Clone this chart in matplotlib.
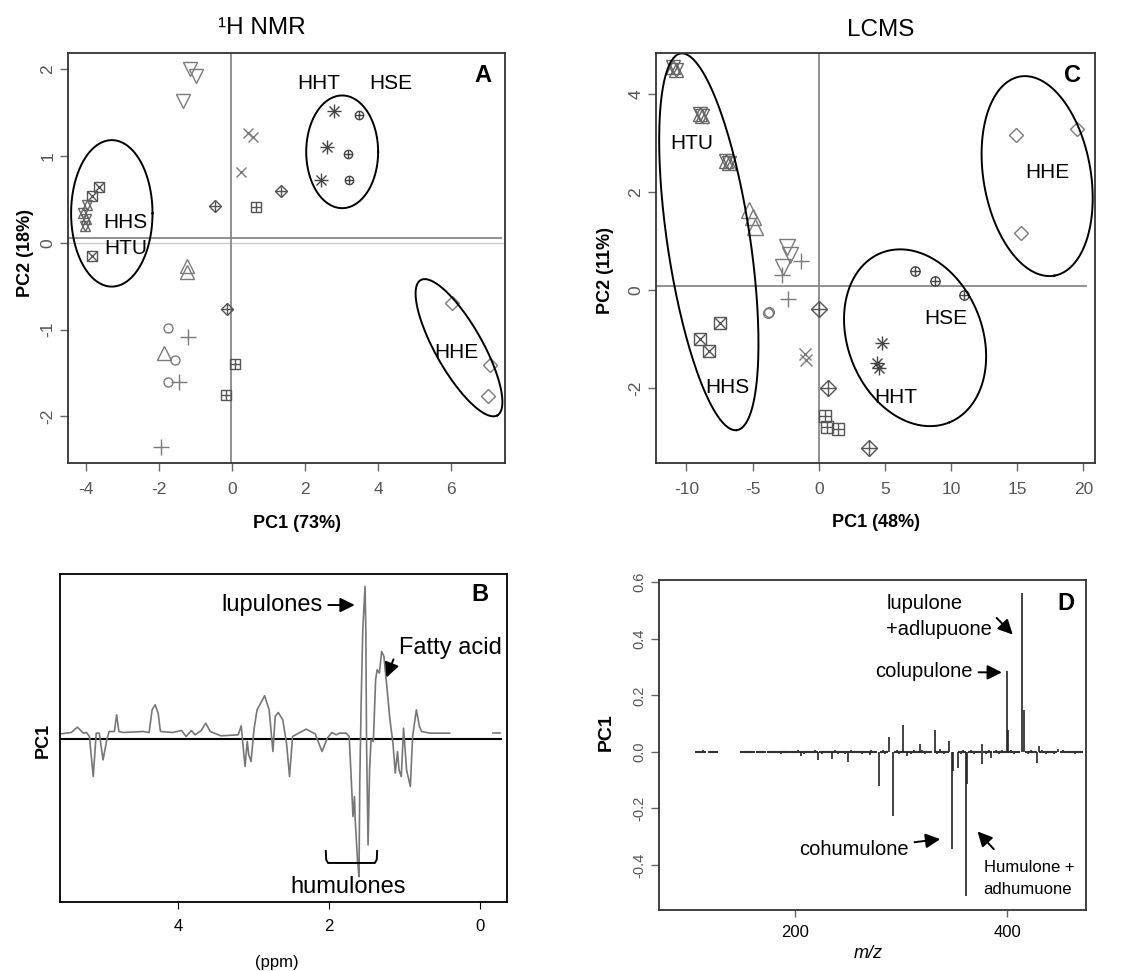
import numpy as np
import matplotlib
matplotlib.use("Agg")
import matplotlib.pyplot as plt

plt.rcParams['font.family'] = ['Liberation Sans', 'DejaVu Sans']

# ---------------- data ----------------
# panel A: 1H NMR PCA scores
nmr_groups = ["HHS", "HTU", "HHT", "HSE", "HHE", "tri_down", "tri_up",
              "cross", "diamond_plus", "square_plus", "circle", "plus"]
nmr_pc1 = [[-3.65, -3.82, -3.82],
           [-3.96, -4.07, -3.99, -4.02],
           [2.79, 2.61, 2.44],
           [3.48, 3.18, 3.20],
           [6.03, 7.06, 7.02],
           [-1.14, -0.99, -1.34],
           [-1.23, -1.23, -1.87],
           [0.43, 0.59, 0.26],
           [-0.46, 1.35, -0.14],
           [0.67, 0.09, -0.17],
           [-1.76, -1.55, -1.74],
           [-1.19, -1.44, -1.94]]
nmr_pc2 = [[0.64, 0.54, -0.15],
           [0.44, 0.34, 0.27, 0.19],
           [1.52, 1.11, 0.72],
           [1.48, 1.02, 0.72],
           [-0.69, -1.41, -1.77],
           [2.00, 1.92, 1.64],
           [-0.27, -0.34, -1.27],
           [1.27, 1.22, 0.82],
           [0.43, 0.60, -0.76],
           [0.41, -1.40, -1.76],
           [-0.98, -1.35, -1.61],
           [-1.09, -1.61, -2.36]]
nmr_labels = ["HHT", "HSE", "HHS", "HTU", "HHE"]
nmr_label_x = [2.39, 4.36, -2.92, -2.92, 6.15]
nmr_label_y = [1.84, 1.84, 0.23, -0.06, -1.26]
# ellipses: centre, first and second semi-axis vectors (data units)
nmr_ell_c = [(-3.29, 0.34), (3.02, 1.05), (6.22, -1.21)]
nmr_ell_u = [(1.115, 0.0), (0.985, 0.0), (1.05, -0.78)]
nmr_ell_v = [(0.0, 0.845), (0.0, 0.65), (0.558, 0.135)]

# panel C: LCMS PCA scores
ms_groups = nmr_groups
ms_pc1 = [[-7.43, -8.93, -8.30],
          [-11.0, -10.8, -9.0, -8.8, -7.0, -6.8],
          [4.75, 4.38, 4.58],
          [7.28, 8.78, 10.95],
          [14.9, 19.5, 15.3],
          [-2.43, -2.18, -2.68],
          [-5.3, -5.0, -4.8],
          [-1.05, -0.93],
          [0.0, 0.7, 3.83],
          [0.45, 0.63, 1.45],
          [-3.80, -3.75],
          [-1.3, -2.8, -2.3]]
ms_pc2 = [[-0.66, -0.99, -1.23],
          [4.55, 4.50, 3.60, 3.55, 2.64, 2.60],
          [-1.08, -1.49, -1.59],
          [0.39, 0.19, -0.10],
          [3.17, 3.29, 1.16],
          [0.89, 0.72, 0.48],
          [1.64, 1.50, 1.30],
          [-1.29, -1.42],
          [-0.39, -1.99, -3.22],
          [-2.56, -2.78, -2.83],
          [-0.46, -0.44],
          [0.59, 0.31, -0.18]]
ms_labels = ["HTU", "HHE", "HSE", "HHS", "HHT"]
ms_label_x = [-9.6, 17.3, 9.6, -6.9, 5.8]
ms_label_y = [3.0, 2.4, -0.57, -1.98, -2.18]
ms_ell_c = [(-8.3, 0.99), (7.28, -0.966), (16.5, 2.33)]
ms_ell_u = [(2.125, -3.84), (2.61, -1.724), (1.30, -2.03)]
ms_ell_v = [(3.09, 0.127), (-4.69, -0.526), (-3.99, -0.19)]

# panel B: NMR PC1 loadings
ppm = [5.55, 5.41, 5.33, 5.25, 5.21, 5.17, 5.12, 5.08, 5.04, 4.99, 4.94,
       4.91, 4.84, 4.81, 4.78, 4.72, 4.46, 4.38, 4.34, 4.30, 4.26, 4.23,
       4.07, 3.95, 3.89, 3.82, 3.77, 3.69, 3.63, 3.57, 3.43, 3.20, 3.16,
       3.11, 3.08, 3.06, 3.03, 2.99, 2.95, 2.85, 2.79, 2.74, 2.71, 2.67,
       2.61, 2.56, 2.52, 2.48, 2.44, 2.30, 2.18, 2.09, 2.02, 1.96, 1.90,
       1.86, 1.77, 1.73, 1.70, 1.68, 1.66, 1.65, 1.62, 1.60, 1.59, 1.57,
       1.55, 1.52, 1.51, 1.50, 1.48, 1.46, 1.44, 1.41, 1.38, 1.36, 1.33,
       1.30, 1.27, 1.24, 1.19, 1.15, 1.12, 1.09, 1.07, 1.04, 1.01, 0.97,
       0.92, 0.89, 0.84, 0.80, 0.77, 0.66, 0.40]
pc1_nmr = [0.15, 0.19, 0.35, 0.17, 0.19, 0.07, -1.13, 0.17, 0.17, -0.63,
           -0.03, 0.22, 0.22, 0.72, 0.22, 0.19, 0.22, 0.19, 0.87, 1.02,
           0.77, 0.22, 0.19, 0.25, 0.07, 0.25, 0.12, 0.25, 0.47, 0.22,
           0.09, 0.12, 0.39, -0.83, -0.08, -0.48, -0.68, 0.30, 0.87, 1.29,
           0.87, -0.38, 0.67, 0.79, 0.57, -0.13, -1.13, 0.07, 0.12, 0.29,
           0.15, -0.38, 0.02, 0.19, 0.12, 0.17, 0.17, 0.07, -1.33, -2.33,
           -1.73, -2.43, -3.63, -4.13, -1.33, 1.27, 3.27, 4.57, 3.27, -0.13,
           -3.18, -0.93, -0.03, -0.08, 1.77, 2.07, 1.97, 2.62, 2.47, 1.77,
           0.57, -0.13, -1.03, -0.38, -0.93, -1.13, 0.32, -0.93, -1.43, 0.07,
           0.87, 0.37, 0.22, 0.17, 0.17]
ppm_tail = [-0.17, -0.27]
pc1_tail = [0.16, 0.16]

# panel D: LCMS PC1 loadings
mz = [206.0, 222.0, 235.1, 250.2, 279.0, 288.4, 292.5, 301.9, 306.0,
      317.5, 331.7, 344.8, 348.3, 348.9, 353.6, 361.4, 362.0, 376.0,
      376.6, 385.0, 400.0, 400.6, 414.1, 415.4, 428.0, 429.5, 448.0, 270.5]
pc1_ms = [-0.015, -0.029, -0.025, -0.036, -0.121, 0.052, -0.227, 0.094,
          -0.015, 0.028, 0.079, 0.040, -0.345, -0.068, -0.056, -0.509,
          -0.115, 0.028, -0.042, -0.021, 0.285, 0.079, 0.561, 0.149,
          -0.039, 0.020, 0.010, -0.010]
mz_small = [109, 114, 121, 125, 151, 155, 160, 166, 170, 177, 180, 183,
            187, 190, 193, 197, 200, 203, 209, 212, 215, 219, 226, 229,
            232, 238, 241, 244, 247, 253, 256, 260, 263, 266, 272, 275,
            283, 285, 296, 298, 304, 309, 312, 314, 320, 323, 326, 334,
            337, 340, 342, 356, 358, 366, 369, 372, 380, 383, 389, 392,
            395, 398, 403, 406, 409, 419, 422, 425, 433, 436, 440, 444,
            452, 456, 460, 464, 468]
pc1_small = [0.003, 0.006, 0.004, -0.003, 0.002, -0.004, 0.003, 0.004,
             -0.003, 0.005, -0.004, 0.003, -0.006, 0.004, -0.003, 0.005,
             -0.004, 0.006, -0.008, 0.004, -0.005, 0.007, -0.006, 0.004,
             -0.005, 0.008, -0.007, 0.005, -0.006, 0.006, -0.005, 0.004,
             -0.007, 0.005, 0.006, -0.005, 0.008, -0.006, 0.006, -0.008,
             0.005, -0.006, 0.008, -0.005, 0.007, -0.006, 0.005, -0.007,
             0.009, -0.006, 0.005, -0.008, 0.006, 0.007, -0.006, 0.005,
             -0.007, 0.006, 0.008, -0.007, 0.006, -0.005, 0.007, -0.006,
             0.005, -0.008, 0.006, -0.005, 0.007, -0.006, 0.005, -0.007,
             0.006, -0.005, 0.004, -0.006, 0.005]

# ---------------- styles ----------------
shapes = {
    "HHS": [("s", 1.0), ("x", 1.0)],
    "HTU": [("^", 1.0), ("v", 1.0)],
    "HHT": [("+", 1.0), ("x", 0.72)],
    "HSE": [("o", 1.0), ("+", 1.0)],
    "HHE": [("D", 1.0)],
    "tri_down": [("v", 1.0)],
    "tri_up": [("^", 1.0)],
    "cross": [("x", 1.0)],
    "diamond_plus": [("D", 1.0), ("+", 1.41)],
    "square_plus": [("s", 1.0), ("+", 1.0)],
    "circle": [("o", 1.0)],
    "plus": [("+", 1.0)],
}
colors = {"HHT": "#444444", "HSE": "#444444", "diamond_plus": "#555555",
          "square_plus": "#555555", "HHS": "#555555", "HTU": "#666666"}
sizes_a = {"HHS": 7, "HTU": 7.5, "HHT": 10, "HSE": 6, "HHE": 7,
           "tri_down": 10.5, "tri_up": 9.5, "cross": 7.5, "diamond_plus": 6.3,
           "square_plus": 6.5, "circle": 6.5, "plus": 11}
sizes_c = {"HHS": 9, "HTU": 10, "HHT": 10, "HSE": 6.7, "HHE": 7.5,
           "tri_down": 11, "tri_up": 11, "cross": 9, "diamond_plus": 8.2,
           "square_plus": 8.3, "circle": 7, "plus": 11}

GRAY_TXT = "#555555"
W, H = 1146, 971


def fx(px):
    return px / W


def fy(py):
    return 1 - py / H


def draw_scores(ax, groups, xs, ys, sizes):
    for g, gx, gy in zip(groups, xs, ys):
        c = colors.get(g, "#7a7a7a")
        for m, f in shapes[g]:
            ax.plot(gx, gy, ls="none", marker=m, ms=sizes[g] * f,
                    mfc="none", mec=c, mew=1.0)


def draw_ellipses(ax, centres, us, vs):
    t = np.linspace(0, 2 * np.pi, 240)
    for (cx, cy), (ux, uy), (vx, vy) in zip(centres, us, vs):
        ax.plot(cx + ux * np.cos(t) + vx * np.sin(t),
                cy + uy * np.cos(t) + vy * np.sin(t), color="black", lw=1.4)


def style_axes(ax, tick_color, size=12.5):
    for s in ax.spines.values():
        s.set_color("#333333")
        s.set_linewidth(1.3)
    ax.tick_params(direction="out", length=6, width=1.0, color="#666666",
                   labelsize=size, labelcolor=tick_color)
    ax.tick_params(axis="x", pad=8)
    ax.tick_params(axis="y", pad=3)
    for lab in ax.get_yticklabels():
        lab.set_rotation(90)
        lab.set_va("center")


fig = plt.figure(figsize=(11.46, 9.71), dpi=100)

# ---------------- panel A ----------------
axA = fig.add_axes([fx(68), fy(463), fx(437), 410 / H])
axA.set_xlim(-4.49, 7.48)
axA.set_ylim(-2.54, 2.19)
axA.axhline(0.0, color="#cccccc", lw=1.0)
axA.plot([-4.49, 7.38], [0.05, 0.05], color="#888888", lw=1.3)
axA.axvline(-0.03, color="#888888", lw=1.3)
draw_scores(axA, nmr_groups, nmr_pc1, nmr_pc2, sizes_a)
draw_ellipses(axA, nmr_ell_c, nmr_ell_u, nmr_ell_v)
for t, x, y in zip(nmr_labels, nmr_label_x, nmr_label_y):
    axA.text(x, y, t, fontsize=15, ha="center", va="center")
axA.set_xticks([-4, -2, 0, 2, 4, 6])
axA.set_yticks([-2, -1, 0, 1, 2])
axA.set_xticklabels(["-4", "-2", "0", "2", "4", "6"])
axA.set_yticklabels(["-2", "-1", "0", "1", "2"])
style_axes(axA, GRAY_TXT)
axA.text(0.95, 0.944, "A", transform=axA.transAxes, fontsize=17,
         fontweight="bold", ha="center", va="center")

# ---------------- panel C ----------------
axC = fig.add_axes([fx(656), fy(463), fx(439), 410 / H])
axC.set_xlim(-12.29, 20.87)
axC.set_ylim(-3.52, 4.84)
axC.plot([-12.29, 20.2], [0.09, 0.09], color="#888888", lw=1.3)
axC.axvline(0.0, color="#888888", lw=1.3)
draw_scores(axC, ms_groups, ms_pc1, ms_pc2, sizes_c)
draw_ellipses(axC, ms_ell_c, ms_ell_u, ms_ell_v)
for t, x, y in zip(ms_labels, ms_label_x, ms_label_y):
    axC.text(x, y, t, fontsize=15, ha="center", va="center")
axC.set_xticks([-10, -5, 0, 5, 10, 15, 20])
axC.set_xticklabels(["-10", "-5", "0", "5", "10", "15", "20"])
axC.set_yticks([-2, 0, 2, 4])
axC.set_yticklabels(["-2", "0", "2", "4"])
style_axes(axC, GRAY_TXT)
axC.text(0.948, 0.946, "C", transform=axC.transAxes, fontsize=17,
         fontweight="bold", ha="center", va="center")

# ---------------- panel B ----------------
axB = fig.add_axes([fx(60), fy(902), fx(447), 328 / H])
axB.set_xlim(5.56, -0.36)
axB.set_ylim(-4.89, 4.94)
axB.plot([5.56, -0.28], [0, 0], color="black", lw=1.5)
axB.plot(ppm, pc1_nmr, color="#777777", lw=1.2)
axB.plot(ppm_tail, pc1_tail, color="#777777", lw=1.2)
axB.set_xticks([4, 2, 0])
axB.set_xticklabels(["4", "2", "0"])
axB.set_yticks([])
for s in axB.spines.values():
    s.set_color("black")
    s.set_linewidth(1.3)
axB.tick_params(direction="out", length=5, labelsize=12, pad=7)
axB.text(0.94, 0.936, "B", transform=axB.transAxes, fontsize=17,
         fontweight="bold", ha="center", va="center")
arrow = dict(arrowstyle="-|>", color="black", lw=1.4, mutation_scale=22)
axB.annotate("lupulones", xy=(1.62, 4.01), xytext=(2.08, 4.01),
             fontsize=17, ha="right", va="center", arrowprops=arrow)
axB.text(1.07, 2.71, "Fatty acid", fontsize=17, ha="left", va="center")
axB.annotate("", xy=(1.25, 1.76), xytext=(1.13, 2.46), arrowprops=arrow)
axB.plot([2.04, 2.035, 2.01, 1.39, 1.365, 1.36],
         [-3.36, -3.62, -3.72, -3.72, -3.62, -3.36], color="black", lw=1.4)
axB.text(1.74, -4.44, "humulones", fontsize=17, ha="center", va="center")

# ---------------- panel D ----------------
axD = fig.add_axes([fx(659), fy(910), fx(427), 330 / H])
axD.set_xlim(72.3, 474)
axD.set_ylim(-0.559, 0.608)
axD.vlines(mz_small, 0, pc1_small, color="#222222", lw=1.2)
axD.plot(mz_small, [0] * len(mz_small), ls="none", marker="_", ms=5,
         mew=1.5, color="#333333")
axD.vlines(mz, 0, pc1_ms, color="#222222", lw=1.2)
axD.set_xticks([200, 400])
axD.set_xticklabels(["200", "400"])
axD.set_yticks([-0.4, -0.2, 0.0, 0.2, 0.4, 0.6])
axD.set_yticklabels(["-0.4", "-0.2", "0.0", "0.2", "0.4", "0.6"])
style_axes(axD, GRAY_TXT, size=10.5)
axD.tick_params(axis="x", labelcolor="black", labelsize=12, length=5, pad=6)
axD.text(0.953, 0.93, "D", transform=axD.transAxes, fontsize=17,
         fontweight="bold", ha="center", va="center")
axD.text(286.2, 0.526, "lupulone", fontsize=14.5, ha="left", va="center")
axD.text(286.2, 0.432, "+adlupuone", fontsize=14.5, ha="left", va="center")
axD.annotate("", xy=(406.9, 0.408), xytext=(388.1, 0.481), arrowprops=arrow)
axD.annotate("colupulone", xy=(397.5, 0.281), xytext=(367.7, 0.283),
             fontsize=14.5, ha="right", va="center", arrowprops=arrow)
axD.annotate("cohumulone", xy=(339.5, -0.307), xytext=(307.5, -0.345),
             fontsize=14.5, ha="right", va="center", arrowprops=arrow)
axD.annotate("", xy=(370.2, -0.274), xytext=(389.0, -0.351), arrowprops=arrow)
axD.text(377.7, -0.409, "Humulone +", fontsize=12, ha="left", va="center")
axD.text(377.7, -0.488, "adhumuone", fontsize=12, ha="left", va="center")

# ---------------- titles and axis labels ----------------
fig.text(fx(262), fy(28), "\u00b9H NMR", fontsize=17.5, ha="center", va="center")
fig.text(fx(881), fy(30), "LCMS", fontsize=17.5, ha="center", va="center")
fig.text(fx(25), fy(253), "PC2 (18%)", fontsize=13, fontweight="bold",
         rotation=90, ha="center", va="center")
fig.text(fx(605), fy(270), "PC2 (11%)", fontsize=13, fontweight="bold",
         rotation=90, ha="center", va="center")
fig.text(fx(297), fy(523), "PC1 (73%)", fontsize=13, fontweight="bold",
         ha="center", va="center")
fig.text(fx(876), fy(522), "PC1 (48%)", fontsize=13, fontweight="bold",
         ha="center", va="center")
fig.text(fx(43), fy(740), "PC1", fontsize=13, fontweight="bold",
         rotation=90, ha="center", va="center")
fig.text(fx(277), fy(962), "(ppm)", fontsize=12, ha="center", va="center")
fig.text(fx(606), fy(732), "PC1", fontsize=14, fontweight="bold",
         rotation=90, ha="center", va="center")
fig.text(fx(868), fy(953), "m/z", fontsize=13, style="italic",
         ha="center", va="center")

fig.savefig("out.png", dpi=100)
